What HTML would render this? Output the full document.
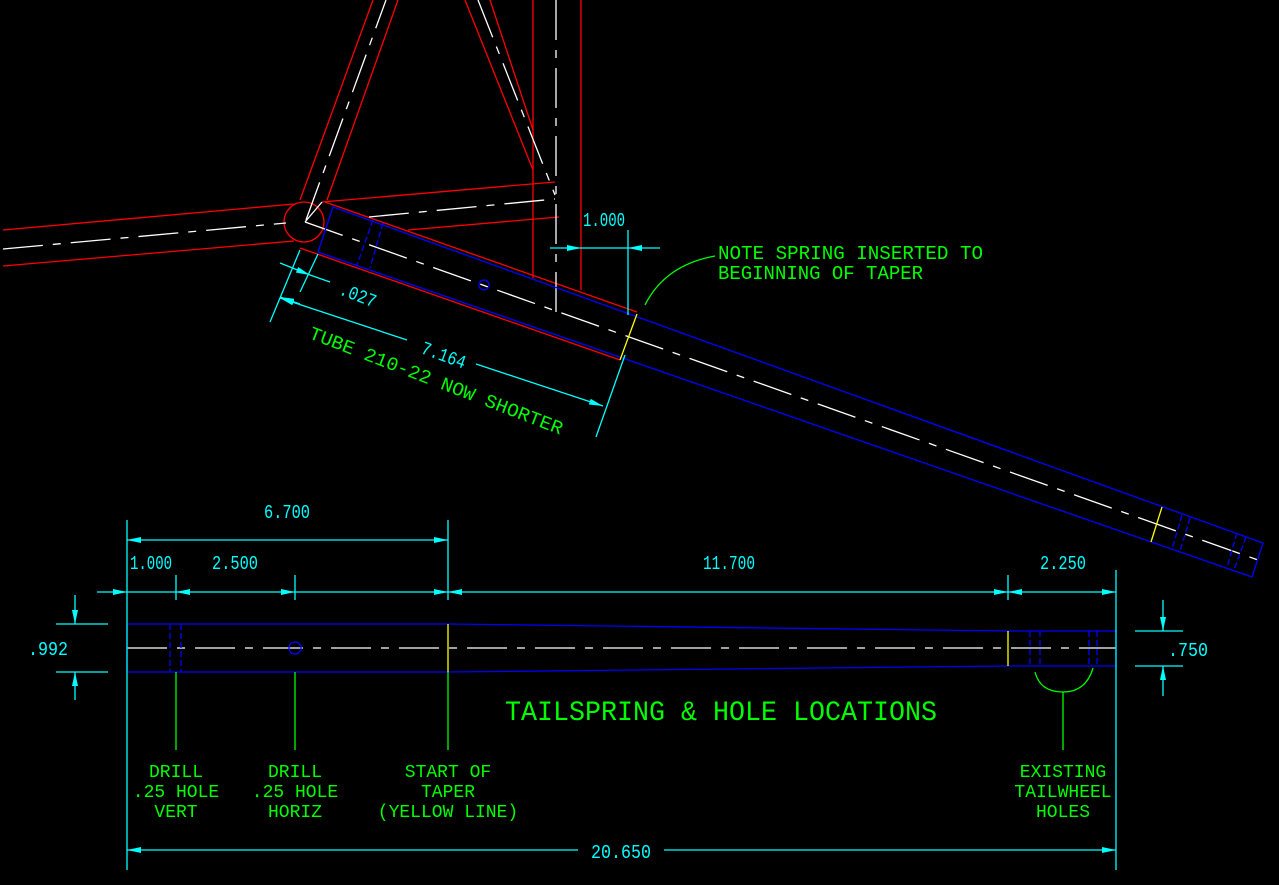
<!DOCTYPE html>
<html><head><meta charset="utf-8"><style>
html,body{margin:0;padding:0;background:#000;}
svg{display:block;}
text{font-family:"Liberation Mono",monospace;}
</style></head><body>
<svg width="1279" height="885" viewBox="0 0 1279 885" xmlns="http://www.w3.org/2000/svg">
<rect width="1279" height="885" fill="#000"/>
<defs>
<marker id="ar" viewBox="0 0 14 6" refX="14" refY="3" markerWidth="14" markerHeight="6" markerUnits="userSpaceOnUse" orient="auto-start-reverse"><path d="M0,0 L14,3 L0,6 Z" fill="#00ffff"/></marker>
</defs>
<g fill="none" stroke-width="1.3">
<g stroke="#ff0000">
<line x1="3" y1="230" x2="294" y2="204"/>
<line x1="3" y1="266" x2="294" y2="241"/>
<line x1="300" y1="200" x2="373" y2="0"/>
<line x1="327" y1="200" x2="398" y2="0"/>
<line x1="465" y1="0" x2="533" y2="170"/>
<line x1="490" y1="0" x2="533" y2="130"/>
<line x1="533" y1="0" x2="533" y2="278"/>
<line x1="581" y1="0" x2="581" y2="290"/>
<line x1="322" y1="202" x2="555" y2="182"/>
<line x1="408" y1="230" x2="559" y2="217"/>
<circle cx="304" cy="222" r="20"/>
<line x1="325" y1="202" x2="637" y2="312"/>
<line x1="300" y1="248" x2="620" y2="360"/>
</g>
<g stroke="#ffffff" stroke-dasharray="40,10,8,10">
<line x1="3" y1="249" x2="286" y2="223"/>
<line x1="306" y1="220" x2="386" y2="0"/>
<line x1="478" y1="0" x2="555" y2="195"/>
<line x1="556" y1="0" x2="556" y2="313"/>
<line x1="369" y1="217" x2="555" y2="199"/>
<line x1="305" y1="222" x2="1258" y2="560"/>
<line x1="127" y1="648" x2="1116" y2="648"/>
</g>
<line x1="305" y1="222" x2="322" y2="202" stroke="#fff"/>
<g stroke="#0000ff">
<polygon points="333,207 1263,543 1252,577 318,252"/>
<line x1="373" y1="220" x2="357" y2="265" stroke-dasharray="6,3"/>
<line x1="383" y1="223" x2="370" y2="268" stroke-dasharray="6,3"/>
<line x1="1182" y1="515" x2="1172" y2="549" stroke-dasharray="6,3"/>
<line x1="1190" y1="518" x2="1180" y2="551" stroke-dasharray="6,3"/>
<line x1="1237" y1="533" x2="1227" y2="567" stroke-dasharray="6,3"/>
<line x1="1246" y1="537" x2="1234" y2="570" stroke-dasharray="6,3"/>
<circle cx="484" cy="285" r="5"/>
</g>
<g stroke="#ffff00">
<line x1="637" y1="314" x2="620" y2="360"/>
<line x1="1162" y1="507" x2="1151" y2="542"/>
</g>
<g stroke="#00ffff">
<line x1="550" y1="248" x2="581" y2="248" marker-end="url(#ar)"/>
<line x1="660" y1="248" x2="628" y2="248" marker-end="url(#ar)"/>
<line x1="581" y1="248" x2="628" y2="248"/>
<line x1="628" y1="230" x2="628" y2="315"/>
<line x1="270" y1="322" x2="300" y2="250"/>
<line x1="300" y1="292" x2="318" y2="254"/>
<line x1="280" y1="297" x2="300" y2="304" marker-start="url(#ar)"/>
<line x1="280" y1="263" x2="310" y2="275" marker-end="url(#ar)"/>
<line x1="310" y1="275" x2="330" y2="282"/>
<line x1="280" y1="298" x2="407" y2="340" marker-start="url(#ar)"/>
<line x1="476" y1="364" x2="603" y2="406" marker-end="url(#ar)"/>
<line x1="596" y1="437" x2="625" y2="355"/>
</g>
<path d="M645,305 Q665,265 715,256" stroke="#00ff00"/>
<g stroke="#0000ff">
<path d="M127,624 L448,624 L1008,631 L1116,631 L1116,666 L1008,666 L448,672 L127,672 Z"/>
<line x1="170" y1="624" x2="170" y2="672" stroke-dasharray="6,3"/>
<line x1="181" y1="624" x2="181" y2="672" stroke-dasharray="6,3"/>
<line x1="1030" y1="631" x2="1030" y2="666" stroke-dasharray="6,3"/>
<line x1="1040" y1="631" x2="1040" y2="666" stroke-dasharray="6,3"/>
<line x1="1089" y1="631" x2="1089" y2="666" stroke-dasharray="6,3"/>
<line x1="1097" y1="631" x2="1097" y2="666" stroke-dasharray="6,3"/>
<circle cx="295" cy="648" r="6"/>
</g>
<line x1="448" y1="624" x2="448" y2="672" stroke="#ffff00"/>
<line x1="1008" y1="631" x2="1008" y2="666" stroke="#ffff00"/>
<g stroke="#00ff00">
<line x1="176" y1="672" x2="176" y2="750"/>
<line x1="295" y1="672" x2="295" y2="750"/>
<line x1="448" y1="672" x2="448" y2="750"/>
<path d="M1035,672 Q1040,692 1063,692 Q1086,692 1093,668"/>
<line x1="1063" y1="692" x2="1063" y2="750"/>
</g>
<g stroke="#00ffff">
<line x1="127" y1="520" x2="127" y2="870"/>
<line x1="448" y1="520" x2="448" y2="600"/>
<line x1="176" y1="575" x2="176" y2="600"/>
<line x1="295" y1="575" x2="295" y2="600"/>
<line x1="1008" y1="575" x2="1008" y2="600"/>
<line x1="1116" y1="570" x2="1116" y2="870"/>
<line x1="127" y1="540" x2="448" y2="540" marker-start="url(#ar)" marker-end="url(#ar)"/>
<line x1="97" y1="592" x2="127" y2="592" marker-end="url(#ar)"/>
<line x1="127" y1="592" x2="176" y2="592"/>
<line x1="176" y1="592" x2="295" y2="592" marker-start="url(#ar)" marker-end="url(#ar)"/>
<line x1="295" y1="592" x2="448" y2="592" marker-end="url(#ar)"/>
<line x1="448" y1="592" x2="1008" y2="592" marker-start="url(#ar)" marker-end="url(#ar)"/>
<line x1="1008" y1="592" x2="1116" y2="592" marker-start="url(#ar)" marker-end="url(#ar)"/>
<line x1="127" y1="850" x2="578" y2="850" marker-start="url(#ar)"/>
<line x1="664" y1="850" x2="1116" y2="850" marker-end="url(#ar)"/>
<line x1="56" y1="624" x2="108" y2="624"/>
<line x1="56" y1="672" x2="108" y2="672"/>
<line x1="75" y1="595" x2="75" y2="624" marker-end="url(#ar)"/>
<line x1="75" y1="700" x2="75" y2="672" marker-end="url(#ar)"/>
<line x1="1135" y1="631" x2="1183" y2="631"/>
<line x1="1135" y1="666" x2="1183" y2="666"/>
<line x1="1163" y1="600" x2="1163" y2="631" marker-end="url(#ar)"/>
<line x1="1163" y1="696" x2="1163" y2="666" marker-end="url(#ar)"/>
</g>
</g>
<g fill="#00ffff" font-size="19">
<text x="583" y="226" textLength="42" lengthAdjust="spacingAndGlyphs">1.000</text>
<text x="264" y="518" textLength="46" lengthAdjust="spacingAndGlyphs">6.700</text>
<text x="130" y="569" textLength="42" lengthAdjust="spacingAndGlyphs">1.000</text>
<text x="212" y="569" textLength="46" lengthAdjust="spacingAndGlyphs">2.500</text>
<text x="703" y="569" textLength="52" lengthAdjust="spacingAndGlyphs">11.700</text>
<text x="1040" y="569" textLength="46" lengthAdjust="spacingAndGlyphs">2.250</text>
<text x="28" y="655" textLength="40" lengthAdjust="spacingAndGlyphs">.992</text>
<text x="1168" y="656" textLength="40" lengthAdjust="spacingAndGlyphs">.750</text>
<text x="591" y="858" textLength="60" lengthAdjust="spacingAndGlyphs">20.650</text>
<text x="338" y="294" transform="rotate(21 338 294)" textLength="38" lengthAdjust="spacingAndGlyphs">.027</text>
<text x="420" y="353" transform="rotate(20 420 353)" textLength="46" lengthAdjust="spacingAndGlyphs">7.164</text>
</g>
<g fill="#00ff00" font-size="19">
<text x="308" y="338" transform="rotate(21 308 338)" textLength="270" lengthAdjust="spacingAndGlyphs">TUBE 210-22 NOW SHORTER</text>
<text x="718" y="259" textLength="265" lengthAdjust="spacingAndGlyphs">NOTE SPRING INSERTED TO</text>
<text x="718" y="279" textLength="205" lengthAdjust="spacingAndGlyphs">BEGINNING OF TAPER</text>
<text x="505" y="720" font-size="28" textLength="432" lengthAdjust="spacingAndGlyphs">TAILSPRING &amp; HOLE LOCATIONS</text>
</g>
<g fill="#00ff00" font-size="18" text-anchor="middle">
<text x="176" y="777">DRILL</text>
<text x="176" y="797">.25 HOLE</text>
<text x="176" y="817">VERT</text>
<text x="295" y="777">DRILL</text>
<text x="295" y="797">.25 HOLE</text>
<text x="295" y="817">HORIZ</text>
<text x="448" y="777">START OF</text>
<text x="448" y="797">TAPER</text>
<text x="448" y="817">(YELLOW LINE)</text>
<text x="1063" y="777">EXISTING</text>
<text x="1063" y="797">TAILWHEEL</text>
<text x="1063" y="817">HOLES</text>
</g>
</svg>
</body></html>
